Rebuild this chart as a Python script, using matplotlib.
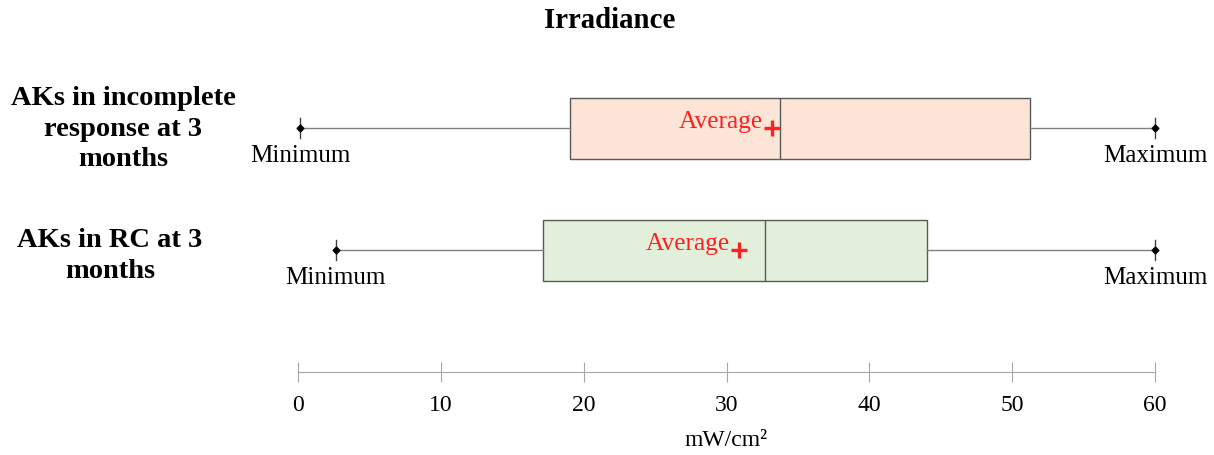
import matplotlib.pyplot as plt

plt.rcParams['font.family'] = ['Liberation Serif', 'DejaVu Serif']

# === data ===
groups = ["AKs in incomplete\nresponse at 3\nmonths", "AKs in RC at 3\nmonths"]
mins = [0.15, 2.65]
q1s = [19.05, 17.15]
medians = [33.75, 32.7]
q3s = [51.25, 44.05]
maxs = [60.0, 60.0]
means = [33.2, 30.9]
fills = ["#FCE4D6", "#E2EFDA"]
xticks = [0, 10, 20, 30, 40, 50, 60]

fig = plt.figure(figsize=(12.14, 4.55), dpi=100)
ax = fig.add_axes([298 / 1214, 1 - 372 / 455, 857 / 1214, 312 / 455])

positions = [2, 1]
stats = []
for i in range(len(groups)):
    stats.append(dict(whislo=mins[i], q1=q1s[i], med=medians[i], q3=q3s[i],
                      whishi=maxs[i], mean=means[i], label=groups[i]))

bp = ax.bxp(stats, positions=positions, widths=0.5, vert=False, patch_artist=True,
            showmeans=True, showfliers=False, capwidths=0.16,
            boxprops=dict(edgecolor="#595959", linewidth=1.0),
            medianprops=dict(color="#595959", linewidth=1.0),
            whiskerprops=dict(color="#808080", linewidth=1.0),
            capprops=dict(color="#404040", linewidth=1.0),
            meanprops=dict(marker="+", markeredgecolor="#FF2020", markersize=12,
                           markeredgewidth=2.4))
for patch, c in zip(bp["boxes"], fills):
    patch.set_facecolor(c)
for cap in bp["caps"]:
    cap.set_clip_on(False)

# min / max diamonds and labels
for i, y in enumerate(positions):
    ax.plot([mins[i], maxs[i]], [y, y], linestyle="none", marker="D",
            color="black", markersize=3.5, clip_on=False)
    ax.text(mins[i], y - 0.14, "Minimum", ha="center", va="top", fontsize=18)
    ax.text(maxs[i], y - 0.14, "Maximum", ha="center", va="top", fontsize=18)
    ax.text(means[i] - 0.65, y + 0.05, "Average", ha="right", va="center",
            fontsize=18.3, color="#FF2020")

ax.set_xlim(0, 60)
ax.set_ylim(0, 312 / 122)
ax.set_yticks([])
for s in ["top", "left", "right"]:
    ax.spines[s].set_visible(False)
ax.spines["bottom"].set_color("#A6A6A6")
ax.set_xticks(xticks)
ax.tick_params(axis="x", direction="inout", length=15, color="#A6A6A6",
               labelsize=17, pad=9)
ax.set_xlabel("mW/cm²", fontsize=17, labelpad=10)

# group labels
fig.text(123 / 1214, 1 - 129 / 455, groups[0], ha="center", va="center",
         fontsize=20.5, fontweight="bold", linespacing=1.3)
fig.text(110 / 1214, 1 - 256 / 455, groups[1], ha="center", va="center",
         fontsize=20.5, fontweight="bold", linespacing=1.3)

fig.text(610 / 1214, 1 - 21 / 455, "Irradiance", ha="center", va="center",
         fontsize=20.8, fontweight="bold")

fig.savefig("out.png", dpi=100)
